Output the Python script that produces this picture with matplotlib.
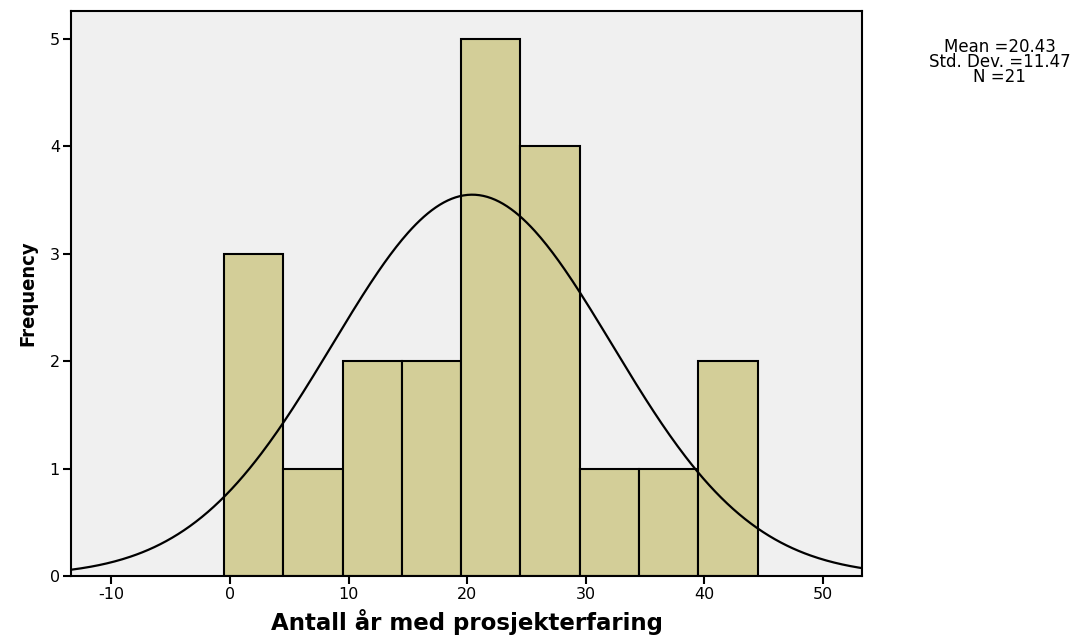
import numpy as np
import matplotlib.pyplot as plt

# histogram data (bins of width 5)
bin_edges = [-0.5, 4.5, 9.5, 14.5, 19.5, 24.5, 29.5, 34.5, 39.5, 44.5]
counts = [3, 1, 2, 2, 5, 4, 1, 1, 2]

mean_val = 20.43
sd_val = 11.47
n_val = 21
curve_sd = 11.8  # width of the drawn curve
x_ticks = [-10, 0, 10, 20, 30, 40, 50]
y_ticks = [0, 1, 2, 3, 4, 5]

plt.rcParams['font.family'] = ['DejaVu Sans']
plt.rcParams['axes.unicode_minus'] = False

fig = plt.figure(figsize=(10.81, 6.39), dpi=100)
ax = fig.add_axes([0.0657, 0.0986, 0.7317, 0.8842])
ax.set_facecolor('#f0f0f0')

widths = np.diff(bin_edges)
ax.bar(bin_edges[:-1], counts, width=widths, align='edge',
       color='#d3ce98', edgecolor='black', linewidth=1.5, zorder=2)

xs = np.linspace(-13.4, 53.3, 400)
binw = widths[0]
ys = n_val * binw * np.exp(-0.5 * ((xs - mean_val) / curve_sd) ** 2) / (curve_sd * np.sqrt(2 * np.pi))
ax.plot(xs, ys, color='black', linewidth=1.6, zorder=3)

ax.set_xlim(-13.4, 53.3)
ax.set_ylim(0, 5.26)
ax.set_xticks(x_ticks)
ax.set_yticks(y_ticks)
ax.tick_params(direction='out', length=6, width=1.5, labelsize=11.5, pad=2)
for s in ax.spines.values():
    s.set_linewidth(1.5)

ax.set_xlabel('Antall år med prosjekterfaring', fontsize=16.5, fontweight='bold', labelpad=5)
ax.set_ylabel('Frequency', fontsize=14.5, fontweight='bold', labelpad=9,
              family=['DejaVu Sans'], fontstretch='condensed')

fig.text(0.925, 0.94, f'Mean ={mean_val:.2f}\nStd. Dev. ={sd_val:.2f}\nN ={n_val}',
         ha='center', va='top', fontsize=12, linespacing=0.78)

fig.savefig('out.png', dpi=100)
